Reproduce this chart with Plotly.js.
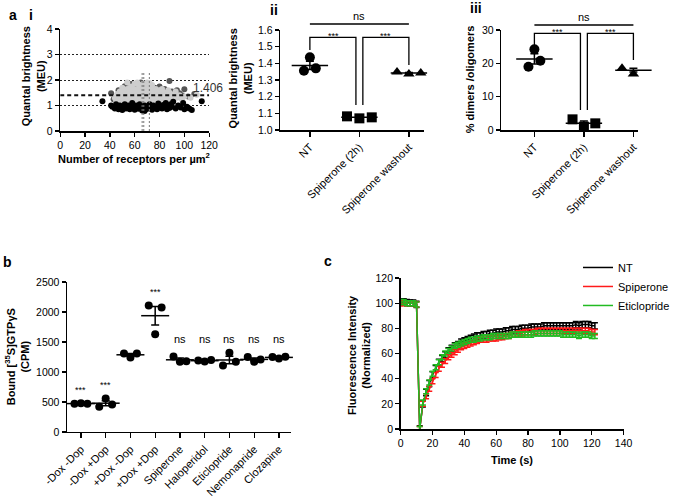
<!DOCTYPE html>
<html>
<head>
<meta charset="utf-8">
<script src="https://cdn.plot.ly/plotly-3.0.1.min.js"></script>
<style>body{margin:0;background:#fff}</style>
</head>
<body>
<div id="fig" style="width:675px;height:497px"></div>
<script>
// ---- panel a(i): brightness vs density scatter ----
var darkX = [41, 43, 47, 50, 52, 55, 57, 58, 61, 63, 65, 67, 69, 72, 74, 76, 78, 80, 82, 84, 86, 88, 90, 92, 94, 96, 98, 100, 103, 108];
var darkY = [1.48, 1.25, 1.6, 1.3, 1.76, 1.5, 1.84, 1.35, 1.7, 1.45, 1.9, 1.62, 1.3, 1.8, 1.45, 1.7, 1.55, 1.75, 1.4, 1.65, 1.5, 1.96, 1.55, 1.3, 1.6, 1.48, 1.4, 1.64, 1.35, 1.45];
var lightX = [44, 45, 46, 47, 48, 48, 49, 50, 50, 51, 52, 52, 53, 53, 54, 54, 55, 55, 56, 56, 57, 57, 58, 58, 59, 59, 60, 60, 61, 61, 62, 62, 63, 63, 64, 64, 65, 65, 66, 66, 67, 67, 68, 68, 69, 69, 70, 70, 71, 71, 72, 72, 73, 73, 74, 74, 75, 75, 76, 76, 77, 77, 78, 78, 79, 80, 80, 81, 82, 82, 83, 84, 85, 86, 87, 88, 89, 90, 92, 94, 96, 98, 100, 105, 110, 54, 62, 70, 58, 66, 74, 82, 60, 68, 76, 64, 72, 50, 56, 63, 69, 75, 81, 87, 93];
var lightY = [1.3, 1.2, 1.45, 1.35, 1.15, 1.55, 1.25, 1.4, 1.7, 1.2, 1.35, 1.55, 1.45, 1.25, 1.65, 1.15, 1.4, 1.3, 1.55, 1.2, 1.75, 1.35, 1.45, 1.25, 1.6, 1.15, 1.35, 1.85, 1.5, 1.25, 1.4, 1.65, 1.2, 1.55, 1.35, 1.75, 1.45, 1.15, 1.6, 1.3, 1.5, 1.85, 1.25, 1.4, 1.65, 1.2, 1.55, 1.35, 1.45, 1.75, 1.3, 1.6, 1.2, 1.5, 1.4, 1.7, 1.3, 1.55, 1.45, 1.2, 1.65, 1.35, 1.5, 1.25, 1.4, 1.6, 1.3, 1.45, 1.2, 1.55, 1.35, 1.5, 1.25, 1.4, 1.3, 1.5, 1.2, 1.35, 1.45, 1.3, 1.4, 1.25, 1.35, 1.3, 1.42, 1.9, 1.9, 1.9, 1.7, 1.75, 1.8, 1.65, 1.6, 1.7, 1.62, 1.8, 1.88, 1.5, 1.62, 1.42, 1.52, 1.62, 1.4, 1.6, 1.55];
var blackX = [34, 41, 42, 44, 45, 46, 47, 48, 49, 50, 51, 52, 53, 54, 55, 56, 57, 58, 59, 60, 61, 62, 63, 64, 65, 66, 67, 68, 68, 69, 70, 71, 72, 73, 74, 75, 76, 77, 78, 79, 80, 81, 82, 83, 84, 85, 86, 87, 88, 89, 90, 91, 93, 95, 97, 99, 100, 102, 104, 106, 114];
var blackY = [1.17, 1.0, 0.95, 0.88, 1.05, 0.92, 0.85, 1.0, 0.9, 0.82, 0.95, 1.05, 0.88, 0.92, 1.0, 0.85, 0.95, 1.1, 0.9, 0.83, 1.0, 0.92, 0.87, 1.05, 0.95, 0.8, 0.9, 0.78, 1.0, 0.85, 0.95, 0.88, 1.05, 0.92, 0.83, 1.0, 0.9, 0.95, 0.85, 1.08, 0.92, 0.98, 0.88, 1.02, 0.95, 1.1, 0.85, 1.0, 0.9, 1.05, 0.95, 1.15, 0.88, 1.0, 0.92, 1.1, 0.85, 0.95, 0.88, 0.82, 1.17];
var meanBrightness = 1.406;
var ciLines = [66, 67.3, 71.8];

// ---- panels ii and iii ----
var treatCats = ['NT', 'Spiperone (2h)', 'Spiperone washout'];
var brightNT = [1.356, 1.436, 1.37];
var brightSpip = [1.082, 1.07, 1.076];
var brightWash = [1.348, 1.336, 1.342];
var dimerNT = [19, 24.2, 20.8];
var dimerSpip = [3.2, 1.0, 2.0];
var dimerWash = [18.5, 16.8, 18.6];

// ---- panel b: [35S]GTPgS binding ----
var gtpCats = ['-Dox -Dop', '-Dox +Dop', '+Dox -Dop', '+Dox +Dop', 'Spiperone', 'Haloperidol', 'Eticlopride', 'Nemonapride', 'Clozapine'];
var gtpVals = [
    [470, 480, 470],
    [420, 560, 460],
    [1310, 1240, 1310],
    [2110, 1630, 2075],
    [1260, 1170, 1180],
    [1190, 1175, 1200],
    [1110, 1320, 1170],
    [1250, 1170, 1210],
    [1250, 1225, 1255]
];
var gtpSig = ['***', '***', '', '***', 'ns', 'ns', 'ns', 'ns', 'ns'];

// ---- panel c: FRAP recovery ----
var timeS = [0, 2, 4, 6, 8, 10, 12, 14, 16, 18, 20, 22, 24, 26, 28, 30, 32, 34, 36, 38, 40, 42, 44, 46, 48, 50, 52, 54, 56, 58, 60, 62, 64, 66, 68, 70, 72, 74, 76, 78, 80, 82, 84, 86, 88, 90, 92, 94, 96, 98, 100, 102, 104, 106, 108, 110, 112, 114, 116, 118, 120, 122];
var ntFluo = [101, 101, 100.5, 100, 100, 99, 0, 20, 29, 36, 43, 48, 53, 56, 59, 62, 64, 66, 67, 69, 70, 71, 72, 73, 74, 74, 75, 75, 76, 76, 77, 77, 77, 78, 78, 79, 79, 79, 80, 80, 80, 81, 81, 81, 81, 82, 82, 82, 82, 82, 82, 82, 82, 82, 82, 83, 82, 83, 83, 83, 82, 82];
var spipFluo = [100, 100, 100, 100, 100, 99, 0, 20, 26, 32, 38, 43, 48, 51, 54, 57, 59, 61, 63, 65, 66, 67, 68, 69, 70, 71, 71, 71, 72, 72, 72, 73, 73, 74, 74, 75, 75, 76, 76, 77, 77, 77, 77, 78, 78, 78, 78, 78, 78, 78, 78, 78, 78, 78, 78, 78, 78, 78, 78, 78, 77, 77];
var eticFluo = [101, 101, 100, 100, 100, 99, 0, 21, 30, 37, 44, 49, 53, 57, 60, 62, 64, 66, 67, 68, 69, 70, 71, 71, 72, 72, 73, 73, 73, 74, 74, 74, 74, 74, 74, 75, 75, 75, 75, 75, 75, 75, 76, 76, 76, 76, 76, 76, 76, 76, 76, 75, 75, 75, 75, 75, 74, 75, 75, 75, 74, 74];
var fluoSem = [2.5, 2, 2];

var FONT = 'Liberation Sans, Arial, sans-serif';

function mean(a) { return a.reduce(function (s, v) { return s + v; }, 0) / a.length; }
function sem(a) {
    var m = mean(a);
    var ss = a.reduce(function (s, v) { return s + (v - m) * (v - m); }, 0);
    return Math.sqrt(ss / (a.length - 1)) / Math.sqrt(a.length);
}
// data value -> paper fraction, so brackets can sit above the axis range
function toPaper(v, rng, dom) { return dom[0] + (v - rng[0]) / (rng[1] - rng[0]) * (dom[1] - dom[0]); }

// subplot frames
var dom = {
    i:   {x: [0.0904, 0.3141], y: [0.7364, 0.9416]},
    ii:  {x: [0.4207, 0.6370], y: [0.7384, 0.9396]},
    iii: {x: [0.7526, 0.9585], y: [0.7384, 0.9396]},
    b:   {x: [0.1007, 0.4370], y: [0.1308, 0.4326]},
    c:   {x: [0.6015, 0.9363], y: [0.1368, 0.4406]}
};
var rngII = [1.0, 1.6], rngIII = [0, 30], rngB = [0, 2500];

var data = [];
var shapes = [];
var annotations = [];

// panel i traces
data.push({x: darkX, y: darkY, xaxis: 'x', yaxis: 'y', mode: 'markers', showlegend: false,
    marker: {size: 6, color: '#555555'}, hoverinfo: 'skip'});
data.push({x: lightX, y: lightY, xaxis: 'x', yaxis: 'y', mode: 'markers', showlegend: false,
    marker: {size: 6, color: '#cdcdcd'}, hoverinfo: 'skip'});
data.push({x: blackX, y: blackY, xaxis: 'x', yaxis: 'y', mode: 'markers', showlegend: false,
    marker: {size: 6, color: '#000000'}, hoverinfo: 'skip'});
ciLines.forEach(function (v) {
    shapes.push({type: 'line', xref: 'x', yref: 'y', x0: v, x1: v, y0: 0, y1: 2.3,
        line: {color: '#777', width: 1, dash: '2px,2px'}});
});
shapes.push({type: 'line', xref: 'x', yref: 'y', x0: 0, x1: 120, y0: meanBrightness, y1: meanBrightness,
    line: {color: '#111', width: 2, dash: '4px,3px'}});
annotations.push({xref: 'x', yref: 'y', x: 105, y: 1.69, xanchor: 'left', text: String(meanBrightness),
    showarrow: false, font: {family: FONT, size: 12, color: '#333'}});

// dot plot with mean +/- SEM
function groupTraces(groups, jitter, symbol, msize, lineLen, xa, ya) {
    groups.forEach(function (vals, gi) {
        var xs = vals.map(function (v, k) { return gi + jitter[gi][k]; });
        data.push({x: xs, y: vals, xaxis: xa, yaxis: ya, mode: 'markers', showlegend: false, cliponaxis: false,
            marker: {symbol: symbol[gi], size: msize, color: '#000'}, hoverinfo: 'skip'});
        data.push({x: [gi], y: [mean(vals)], xaxis: xa, yaxis: ya, mode: 'markers', showlegend: false, cliponaxis: false,
            marker: {symbol: 'line-ew', size: lineLen, line: {width: 1.5, color: '#000'}},
            error_y: {type: 'data', array: [sem(vals)], width: 4, thickness: 1.5, color: '#000'}, hoverinfo: 'skip'});
    });
}
groupTraces([brightNT, brightSpip, brightWash], [[-0.12, 0, 0.12], [-0.25, 0, 0.25], [-0.24, 0, 0.24]],
    ['circle', 'square', 'triangle-up'], 10, 26, 'x2', 'y2');
groupTraces([dimerNT, dimerSpip, dimerWash], [[-0.12, 0, 0.12], [-0.23, 0, 0.23], [-0.23, 0, 0.23]],
    ['circle', 'square', 'triangle-up'], 10, 26, 'x3', 'y3');
var circ = gtpVals.map(function () { return 'circle'; });
var jit = gtpVals.map(function () { return [-0.26, 0, 0.26]; });
groupTraces(gtpVals, jit, circ, 8, 20, 'x4', 'y4');

// significance brackets for ii / iii
function sigSet(xa, rng, d, ns, top, leftDrop, rightDrop, inner) {
    var P = function (v) { return toPaper(v, rng, d.y); };
    var line = {color: '#000', width: 1.3};
    shapes.push({type: 'line', xref: xa, yref: 'paper', x0: 0, x1: 2, y0: P(ns), y1: P(ns), line: line});
    shapes.push({type: 'path', xref: xa, yref: 'paper', line: line,
        path: 'M0,' + P(leftDrop) + ' L0,' + P(top) + ' L0.93,' + P(top) + ' L0.93,' + P(inner)});
    shapes.push({type: 'path', xref: xa, yref: 'paper', line: line,
        path: 'M1.07,' + P(inner) + ' L1.07,' + P(top) + ' L2,' + P(top) + ' L2,' + P(rightDrop)});
    annotations.push({xref: xa, yref: 'paper', x: 1, y: P(ns), yanchor: 'bottom', text: 'ns', showarrow: false,
        font: {family: FONT, size: 11, color: '#000'}});
    [0.47, 1.53].forEach(function (xx) {
        annotations.push({xref: xa, yref: 'paper', x: xx, y: P(top) - 0.012, yanchor: 'bottom', text: '***', showarrow: false,
            font: {family: FONT, size: 9, color: '#000'}});
    });
}
sigSet('x2', rngII, dom.ii, 1.636, 1.556, 1.48, 1.39, 1.15);
sigSet('x3', rngIII, dom.iii, 31.5, 29, 25, 21, 6);

// significance labels for b
gtpSig.forEach(function (s, gi) {
    if (!s) return;
    var top = Math.max.apply(null, gtpVals[gi]);
    var yv = s === 'ns' ? 1420 : top + 110;
    annotations.push({xref: 'x4', yref: 'y4', x: gi, y: yv, yanchor: 'bottom', text: s, showarrow: false,
        font: {family: FONT, size: s === 'ns' ? 11 : 9, color: '#000'}});
});

// panel c traces
[['NT', ntFluo, '#000000'], ['Spiperone', spipFluo, '#ff1a1a'], ['Eticlopride', eticFluo, '#22bb22']].forEach(function (s, k) {
    data.push({x: timeS, y: s[1], xaxis: 'x5', yaxis: 'y5', mode: 'lines', name: s[0],
        line: {color: s[2], width: 1.5},
        error_y: {type: 'constant', value: fluoSem[k], color: s[2], thickness: 1.5, width: 3}, hoverinfo: 'skip'});
});

// panel letters
[['a', 0.019, 0.97], ['i', 0.047, 0.97], ['ii', 0.412, 0.98], ['iii', 0.715, 0.984],
 ['b', 0.011, 0.473], ['c', 0.493, 0.475]].forEach(function (p) {
    annotations.push({xref: 'paper', yref: 'paper', x: p[1], y: p[2], xanchor: 'center', yanchor: 'middle',
        text: '<b>' + p[0] + '</b>', showarrow: false, font: {family: FONT, size: 14, color: '#000'}});
});

// axis titles placed by hand (plotly's own placement sits too far out)
[['Quantal brightness<br>(MEU)', 0.050, 0.847, -90],
 ['Number of receptors per µm<sup>2</sup>', 0.2015, 0.682, 0],
 ['Quantal brightness<br>(MEU)', 0.361, 0.843, -90],
 ['% dimers /oligomers', 0.706, 0.841, -90],
 ['Bound [<sup>35</sup>S]GTPγS<br>(CPM)', 0.026, 0.2817, -90],
 ['Fluorescence Intensity<br>(Normalized)', 0.539, 0.2857, -90],
 ['Time (s)', 0.769, 0.0744, 0]].forEach(function (t) {
    annotations.push({xref: 'paper', yref: 'paper', x: t[1], y: t[2], xanchor: 'center', yanchor: 'middle',
        textangle: t[3], text: '<b>' + t[0] + '</b>', showarrow: false,
        font: {family: FONT, size: 11, color: '#000'}});
});

function axis(extra) {
    var base = {showline: true, linecolor: '#000', linewidth: 1.5, ticks: 'outside', ticklen: 4, tickwidth: 1.3,
        tickcolor: '#000', showgrid: false, zeroline: false, fixedrange: true, automargin: false,
        ticklabeloverflow: 'allow', tickfont: {family: FONT, size: 10.5, color: '#000'}};
    for (var k in extra) base[k] = extra[k];
    return base;
}
var catFont = {family: FONT, size: 11, color: '#000'};

var layout = {
    width: 675, height: 497,
    margin: {l: 0, r: 0, t: 0, b: 0},
    paper_bgcolor: '#fff', plot_bgcolor: 'rgba(0,0,0,0)',
    font: {family: FONT, color: '#000'},
    showlegend: true,
    legend: {x: 0.868, y: 0.491, xanchor: 'left', yanchor: 'top', bgcolor: 'rgba(0,0,0,0)',
        font: {family: FONT, size: 11, color: '#000'}, tracegroupgap: 0},
    xaxis: axis({domain: dom.i.x, anchor: 'y', range: [0, 120], dtick: 20}),
    yaxis: axis({domain: dom.i.y, anchor: 'x', range: [0, 4], dtick: 1, showgrid: true,
        gridcolor: '#222', griddash: '2px,2px', gridwidth: 1}),
    xaxis2: axis({domain: dom.ii.x, anchor: 'y2', range: [-0.6, 2.31], tickvals: [0, 1, 2], ticktext: treatCats,
        tickangle: -45, ticklen: 5, tickfont: catFont}),
    yaxis2: axis({domain: dom.ii.y, anchor: 'x2', range: rngII, dtick: 0.1, tickformat: '.1f'}),
    xaxis3: axis({domain: dom.iii.x, anchor: 'y3', range: [-0.67, 2.1], tickvals: [0, 1, 2], ticktext: treatCats,
        tickangle: -45, ticklen: 5, tickfont: catFont}),
    yaxis3: axis({domain: dom.iii.y, anchor: 'x3', range: rngIII, dtick: 10}),
    xaxis4: axis({domain: dom.b.x, anchor: 'y4', range: [-0.56, 8.49], tickvals: [0, 1, 2, 3, 4, 5, 6, 7, 8],
        ticktext: gtpCats, tickangle: -45, ticklen: 5, tickfont: catFont}),
    yaxis4: axis({domain: dom.b.y, anchor: 'x4', range: rngB, dtick: 500}),
    xaxis5: axis({domain: dom.c.x, anchor: 'y5', range: [0, 140], dtick: 20}),
    yaxis5: axis({domain: dom.c.y, anchor: 'x5', range: [0, 120], dtick: 20}),
    shapes: shapes,
    annotations: annotations
};

Plotly.newPlot('fig', data, layout, {displayModeBar: false, staticPlot: true});
</script>
</body>
</html>
